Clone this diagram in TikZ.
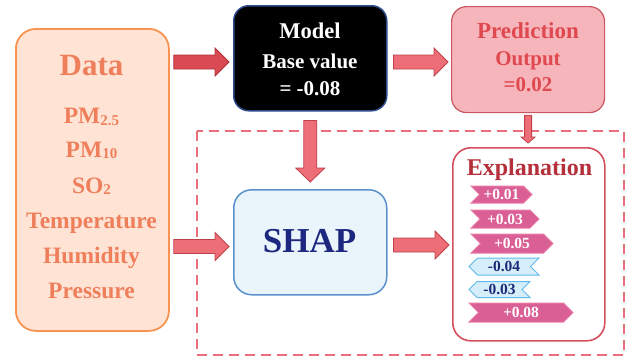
\documentclass[tikz,border=0pt]{standalone}
\usepackage{fontspec}
\setmainfont{Liberation Serif}
\usetikzlibrary{calc,shapes.symbols}
\definecolor{dataFill}{HTML}{FFE4D6}
\definecolor{dataBorder}{HTML}{F99450}
\definecolor{dataText}{HTML}{EF7F5B}
\definecolor{modelBorder}{HTML}{2E4A8C}
\definecolor{predFill}{HTML}{F5B5BA}
\definecolor{predBorder}{HTML}{C95560}
\definecolor{predText}{HTML}{E04850}
\definecolor{dashCol}{HTML}{E8707C}
\definecolor{shapFill}{HTML}{E9F5FB}
\definecolor{shapBorder}{HTML}{5A90CC}
\definecolor{shapText}{HTML}{1E2780}
\definecolor{explBorder}{HTML}{D5505C}
\definecolor{explText}{HTML}{B5303A}
\definecolor{pinkFill}{HTML}{DA5F95}
\definecolor{pinkBorder}{HTML}{EA7CA8}
\definecolor{blueFill}{HTML}{D5EEFA}
\definecolor{blueBorder}{HTML}{62B9EC}
\definecolor{blueText}{HTML}{1C2A78}
\definecolor{arrDark}{HTML}{D94A55}
\definecolor{arrDarkB}{HTML}{B0303A}
\definecolor{arrFill}{HTML}{EE6E78}
\definecolor{arrBorder}{HTML}{C0404A}
\newcommand\hblock[6]{%
  \draw[#1] let \p1=(#2), \p2=(#3), \p3=(0,#4) in
    (\x1+#5pt,\y3-7pt) -- (\x2-#6pt-14pt,\y3-7pt) -- (\x2-#6pt-14pt,\y3-14pt)
    -- (\x2-#6pt,\y3) -- (\x2-#6pt-14pt,\y3+14pt) -- (\x2-#6pt-14pt,\y3+7pt)
    -- (\x1+#5pt,\y3+7pt) -- cycle;}
\newcommand\vblock[8]{%
  \draw[#1] let \p1=(#2), \p2=(#3) in
    (\x1-#4pt,\y1-#7pt) -- (\x1-#4pt,\y2+#8pt+#6pt) -- (\x1-#5pt,\y2+#8pt+#6pt)
    -- (\x1,\y2+#8pt) -- (\x1+#5pt,\y2+#8pt+#6pt) -- (\x1+#4pt,\y2+#8pt+#6pt)
    -- (\x1+#4pt,\y1-#7pt) -- cycle;}
\tikzset{
  databox/.style={draw=dataBorder, fill=dataFill, line width=1.8pt, rounded corners=20pt, anchor=north west},
  modelbox/.style={draw=modelBorder, fill=black, line width=1.5pt, rounded corners=15pt, anchor=north west},
  predbox/.style={draw=predBorder, fill=predFill, line width=1.2pt, rounded corners=15pt, anchor=north west},
  shapbox/.style={draw=shapBorder, fill=shapFill, line width=1.5pt, rounded corners=18pt, anchor=north west},
  explbox/.style={draw=explBorder, fill=white, line width=1.6pt, rounded corners=18pt, anchor=north west},
  txt/.style={inner sep=0pt, anchor=base},
  dtext/.style={txt, text=dataText, font=\fontsize{23.5}{24}\selectfont\bfseries},
  mtext/.style={txt, text=white, font=\fontsize{21}{22}\selectfont\bfseries},
  ptext/.style={txt, text=predText, font=\fontsize{21}{22}\selectfont\bfseries},
  barbase/.style={signal, signal from=west, signal to=east, signal pointer angle=90,
    inner sep=0pt, line width=1pt, font=\fontsize{15.5}{16}\selectfont\bfseries},
  pbar/.style={barbase, draw=pinkBorder, fill=pinkFill, text=white},
  bbar/.style={barbase, signal from=east, signal to=west, draw=blueBorder, fill=blueFill, text=blueText},
  darrow/.style={fill=arrDark, draw=arrDarkB, line width=0.8pt},
  larrow/.style={fill=arrFill, draw=arrBorder, line width=0.8pt},
}
\newcommand\sub[1]{\raisebox{-1.5pt}{\fontsize{15}{15}\selectfont #1}}
\begin{document}
\begin{tikzpicture}[x=1pt,y=-1pt]
\useasboundingbox (0,0) rectangle (633,357);
% dashed region
\draw[dashCol, line width=1.5pt, dash pattern=on 10pt off 6pt] (197,131) rectangle (624,355);
% boxes
\node[databox, minimum width=153, minimum height=302] (data) at (15,28) {};
\node[modelbox, minimum width=153, minimum height=105] (model) at (233,5) {};
\node[predbox, minimum width=153, minimum height=106] (pred) at (451,6) {};
\node[shapbox, minimum width=153, minimum height=105] (shap) at (233,189) {};
\node[explbox, minimum width=152, minimum height=193] (expl) at (452,147) {};
% data text
\node[txt, text=dataText, font=\fontsize{31}{32}\selectfont\bfseries] (dtitle) at (91.5,75) {Data};
\node[dtext] (d1) at (91.5,123.5) {PM\sub{2.5}};
\node[dtext] (d2) at (91.5,157) {PM\sub{10}};
\node[dtext] (d3) at (91.5,193) {SO\sub{2}};
\node[dtext] (d4) at (91.5,228) {Temperature};
\node[dtext] (d5) at (91.5,263) {Humidity};
\node[dtext] (d6) at (91.5,298.5) {Pressure};
% model text
\node[mtext, font=\fontsize{22.5}{23}\selectfont\bfseries] (m1) at (310,38) {Model};
\node[mtext] (m2) at (310,68) {Base value};
\node[mtext] (m3) at (310,95) {= -0.08};
% prediction text
\node[ptext, font=\fontsize{23}{24}\selectfont\bfseries] (p1) at (528,38) {Prediction};
\node[ptext] (p2) at (528,65) {Output};
\node[ptext] (p3) at (528,91) {=0.02};
% shap text
\node[txt, text=shapText, font=\fontsize{35}{36}\selectfont\bfseries] (s1) at (309.5,252) {SHAP};
% explanation
\node[txt, text=explText, font=\fontsize{24}{25}\selectfont\bfseries] (e1) at (529.5,175) {Explanation};
\node[pbar, minimum width=61, minimum height=17] (b1) at (501.5,194.5) {+0.01};
\node[pbar, minimum width=68, minimum height=18] (b2) at (505,219) {+0.03};
\node[pbar, minimum width=82, minimum height=19] (b3) at (512,243.5) {+0.05};
\node[bbar, minimum width=70, minimum height=17] (b4) at (504,266.5) {-0.04};
\node[bbar, minimum width=61, minimum height=16] (b5) at (499.5,289.5) {-0.03};
\node[pbar, minimum width=104, minimum height=19] (b6) at (521,312.5) {+0.08};
% arrows
\hblock{darrow}{data.east}{model.west}{62}{4}{4}
\hblock{larrow}{model.east}{pred.west}{62}{6}{3}
\hblock{larrow}{data.east}{shap.west}{246.5}{4}{4}
\hblock{larrow}{shap.east}{expl.west}{245}{6}{3}
\vblock{larrow}{model.south}{shap.north}{6.5}{14.5}{14}{9}{7}
\vblock{larrow}{pred.south}{expl.north}{3.5}{7}{6}{2}{4}
\end{tikzpicture}
\end{document}
